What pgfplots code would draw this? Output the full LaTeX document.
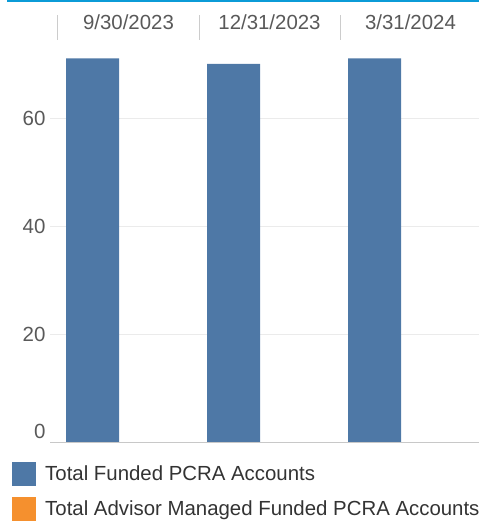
\documentclass[border=0pt]{standalone}
\usepackage{pgfplots}
\pgfplotsset{compat=1.18}
\usepackage{fontspec}
\setmainfont{Liberation Sans}
\definecolor{barblue}{HTML}{4E78A6}
\definecolor{barorange}{HTML}{F5902E}
\definecolor{topblue}{HTML}{0B9BD7}
\definecolor{ticktxt}{HTML}{595959}
\definecolor{legtxt}{HTML}{333333}
\definecolor{gridc}{HTML}{EBEBEB}
\definecolor{basec}{HTML}{C8C8C8}
\definecolor{sepc}{HTML}{CCCCCC}
\begin{document}
\begin{tikzpicture}
\path[use as bounding box] (0pt,0pt) rectangle (479pt,521pt);
\fill[topblue] (7pt,518.5pt) rectangle (479pt,521pt);
\begin{axis}[
  at={(50pt,78pt)}, anchor=south west,
  scale only axis,
  width=429pt, height=395.4pt,
  xmin=-0.0567, xmax=2.9858,
  ymin=0, ymax=73,
  clip=false,
  axis line style={draw=none},
  xtick=\empty,
  ytick={20,40,60},
  extra y ticks={0},
  extra y tick style={ymajorgrids=false, yticklabel style={yshift=12pt}},
  ymajorgrids,
  grid style={gridc, line width=1pt},
  major tick length=0pt,
  yticklabel style={font=\fontsize{20.5}{24}\selectfont, text=ticktxt, xshift=-1pt},
  /pgf/number format/assume math mode=true,
  ybar, bar width=53pt, bar shift=0pt,
  legend image code/.code={\fill[#1] (0pt,-12pt) rectangle (24pt,12pt);},
  legend style={at={(rel axis cs:0,0)}, anchor=north west, xshift=-38pt, yshift=-19pt,
    draw=none, fill=none, inner sep=0pt, row sep=11pt,
    font=\fontsize{20.4}{24}\selectfont, text=legtxt,
    nodes={inner sep=0pt, anchor=west},
    /tikz/every odd column/.append style={column sep=9pt}},
  legend cell align=left,
]
\addplot[fill=barblue, draw=none] coordinates {(0.245,71) (1.245,70) (2.245,71)};
\addplot[fill=barorange, draw=none] coordinates {(0.621,0) (1.621,0) (2.621,0)};
\legend{Total Funded PCRA Accounts, Total Advisor Managed Funded PCRA Accounts}
\draw[basec, line width=1pt] (rel axis cs:0,0) -- (rel axis cs:1,0);
\draw[sepc, line width=1pt] ([yshift=8pt]axis cs:0,73) -- ([yshift=33pt]axis cs:0,73);
\draw[sepc, line width=1pt] ([yshift=8pt]axis cs:1,73) -- ([yshift=33pt]axis cs:1,73);
\draw[sepc, line width=1pt] ([yshift=8pt]axis cs:2,73) -- ([yshift=33pt]axis cs:2,73);
\node[font=\fontsize{20.4}{24}\selectfont, text=ticktxt] at ([yshift=25pt]axis cs:0.5,73) {9/30/2023};
\node[font=\fontsize{20.4}{24}\selectfont, text=ticktxt] at ([yshift=25pt]axis cs:1.5,73) {12/31/2023};
\node[font=\fontsize{20.4}{24}\selectfont, text=ticktxt] at ([yshift=25pt]axis cs:2.5,73) {3/31/2024};
\end{axis}
\end{tikzpicture}
\end{document}
